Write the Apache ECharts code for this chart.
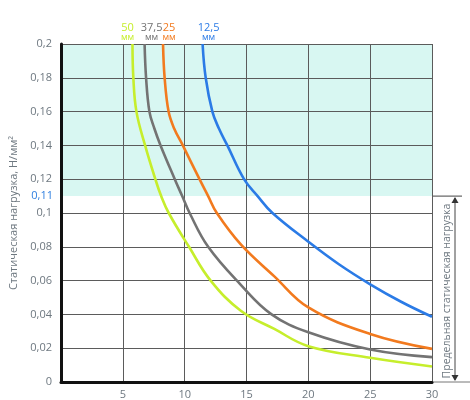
<!DOCTYPE html>
<html>
<head>
<meta charset="utf-8">
<script src="https://cdn.jsdelivr.net/npm/echarts@6/dist/echarts.min.js"></script>
<style>
  html, body { margin: 0; padding: 0; background: #fff; }
  #chart { width: 470px; height: 400px; }
</style>
</head>
<body>
<div id="chart"></div>
<script>
// данные кривых: [пролёт, нагрузка]
const names = ['50', '37,5', '25', '12,5'];
const colors = ['#c6ee2c', '#737373', '#f27a1e', '#2b7be6'];
const curve50 = [[5.78, 0.2], [5.85, 0.18], [6.1, 0.16], [6.8, 0.14], [7.63, 0.12], [8.1, 0.11], [8.71, 0.1], [10.35, 0.08], [12.1, 0.06], [14.54, 0.0422], [17.25, 0.0314], [20, 0.0212], [25, 0.0143], [30, 0.0092]];
const curve375 = [[6.76, 0.2], [6.88, 0.18], [7.15, 0.16], [7.55, 0.15], [8.05, 0.14], [9.2, 0.12], [9.8, 0.11], [10.4, 0.1], [11.9, 0.08], [14.54, 0.0575], [17.0, 0.0402], [20, 0.0294], [25, 0.0192], [30, 0.0147]];
const curve25 = [[8.25, 0.2], [8.38, 0.18], [8.7, 0.16], [9.15, 0.15], [9.85, 0.14], [11.2, 0.12], [11.9, 0.11], [12.6, 0.1], [14.54, 0.0814], [17.25, 0.0625], [20, 0.0441], [25, 0.0284], [30, 0.0196]];
const curve125 = [[11.45, 0.2], [11.7, 0.18], [12.24, 0.16], [12.77, 0.15], [13.45, 0.14], [14.8, 0.12], [15.9, 0.11], [17.1, 0.1], [20, 0.083], [22.5, 0.0695], [25, 0.0578], [27.5, 0.0475], [30, 0.0386]];
const curves = [curve50, curve375, curve25, curve125];
const labelOffsets = [[-5, 0], [7, 0], [6, 0], [6, 0]]; // сдвиг подписей над кривыми
const limitLoad = 0.11; // предельная статическая нагрузка
const xMax = 30, yMax = 0.2;

const font = 'Open Sans';
const gray = '#6e7880';

let chart = echarts.init(document.getElementById('chart'));

let series = curves.map((c, i) => ({
    type: 'line',
    name: names[i],
    smooth: 0.4,
    showSymbol: true,
    symbol: 'circle',
    symbolSize: 0,
    itemStyle: { color: colors[i] },
    lineStyle: { color: colors[i], width: 2.6 },
    z: 10,
    data: c.map((p, j) => j === 0 ? {
        value: p,
        symbolSize: 0.1,
        label: {
            show: true,
            position: 'top',
            distance: 3,
            offset: labelOffsets[i],
            formatter: '{n|' + names[i] + '}\n{u|мм}',
            rich: {
                n: { fontFamily: font, fontSize: 11, color: colors[i], lineHeight: 10, align: 'center' },
                u: { fontFamily: font, fontSize: 9, color: colors[i], lineHeight: 8, align: 'center' }
            }
        }
    } : p)
}));

// голубая зона и подпись 0,11
series.unshift({
    type: 'line',
    data: [],
    z: 1,
    silent: true,
    markArea: {
        silent: true,
        itemStyle: { color: '#d8f7f2' },
        data: [[{ yAxis: limitLoad }, { yAxis: yMax }]]
    },
    markLine: {
        silent: true,
        symbol: 'none',
        lineStyle: { color: 'rgba(0,0,0,0)', width: 0 },
        label: {
            position: 'start',
            distance: 8,
            formatter: '0,11',
            color: '#2f7fe0',
            fontFamily: font,
            fontSize: 11
        },
        data: [{ yAxis: limitLoad }]
    }
});

chart.setOption({
    animation: false,
    grid: { left: 61, right: 38, top: 44, bottom: 16 },
    xAxis: {
        type: 'value',
        z: 5,
        min: 0,
        max: xMax,
        interval: 5,
        axisLine: { lineStyle: { color: '#111', width: 3 } },
        axisTick: { show: false },
        splitLine: { lineStyle: { color: '#5b5b5b', width: 1 } },
        axisLabel: {
            color: gray, fontFamily: font, fontSize: 11, margin: 7,
            formatter: v => v === 0 ? '' : String(v)
        }
    },
    yAxis: {
        type: 'value',
        z: 5,
        min: 0,
        max: yMax,
        interval: 0.02,
        name: 'Статическая нагрузка, Н/мм²',
        nameLocation: 'middle',
        nameRotate: 90,
        nameGap: 37,
        nameTextStyle: { color: gray, fontFamily: font, fontSize: 11 },
        axisLine: { show: true, lineStyle: { color: '#111', width: 3 } },
        axisTick: { show: false },
        splitLine: { lineStyle: { color: '#5b5b5b', width: 1 } },
        axisLabel: {
            color: gray, fontFamily: font, fontSize: 11, margin: 9,
            formatter: v => String(+v.toFixed(2)).replace('.', ',')
        }
    },
    series: series
});

// выноска справа: предельная нагрузка
let pTop = chart.convertToPixel({ gridIndex: 0 }, [xMax, limitLoad]);
let pBot = chart.convertToPixel({ gridIndex: 0 }, [xMax, 0]);
let ax = pTop[0] + 23;
chart.setOption({
    graphic: [
        { type: 'line', shape: { x1: pTop[0], y1: pTop[1], x2: pTop[0] + 30, y2: pTop[1] }, style: { stroke: '#444', lineWidth: 1 } },
        { type: 'line', shape: { x1: pBot[0], y1: pBot[1], x2: 470, y2: pBot[1] }, style: { stroke: '#777', lineWidth: 1 } },
        { type: 'line', shape: { x1: ax, y1: pTop[1] + 2, x2: ax, y2: pBot[1] - 2 }, style: { stroke: '#444', lineWidth: 1 } },
        { type: 'polygon', shape: { points: [[ax, pTop[1] + 1], [ax - 3.5, pTop[1] + 7], [ax + 3.5, pTop[1] + 7]] }, style: { fill: '#333' } },
        { type: 'polygon', shape: { points: [[ax, pBot[1] - 1], [ax - 3.5, pBot[1] - 7], [ax + 3.5, pBot[1] - 7]] }, style: { fill: '#333' } },
        {
            type: 'text',
            x: pTop[0] + 15,
            y: (pTop[1] + pBot[1]) / 2 + 2,
            rotation: Math.PI / 2,
            style: {
                text: 'Предельная статическая нагрузка',
                fill: gray,
                font: '10.5px "Open Sans"',
                textAlign: 'center',
                textVerticalAlign: 'middle'
            }
        }
    ]
});
</script>
</body>
</html>
